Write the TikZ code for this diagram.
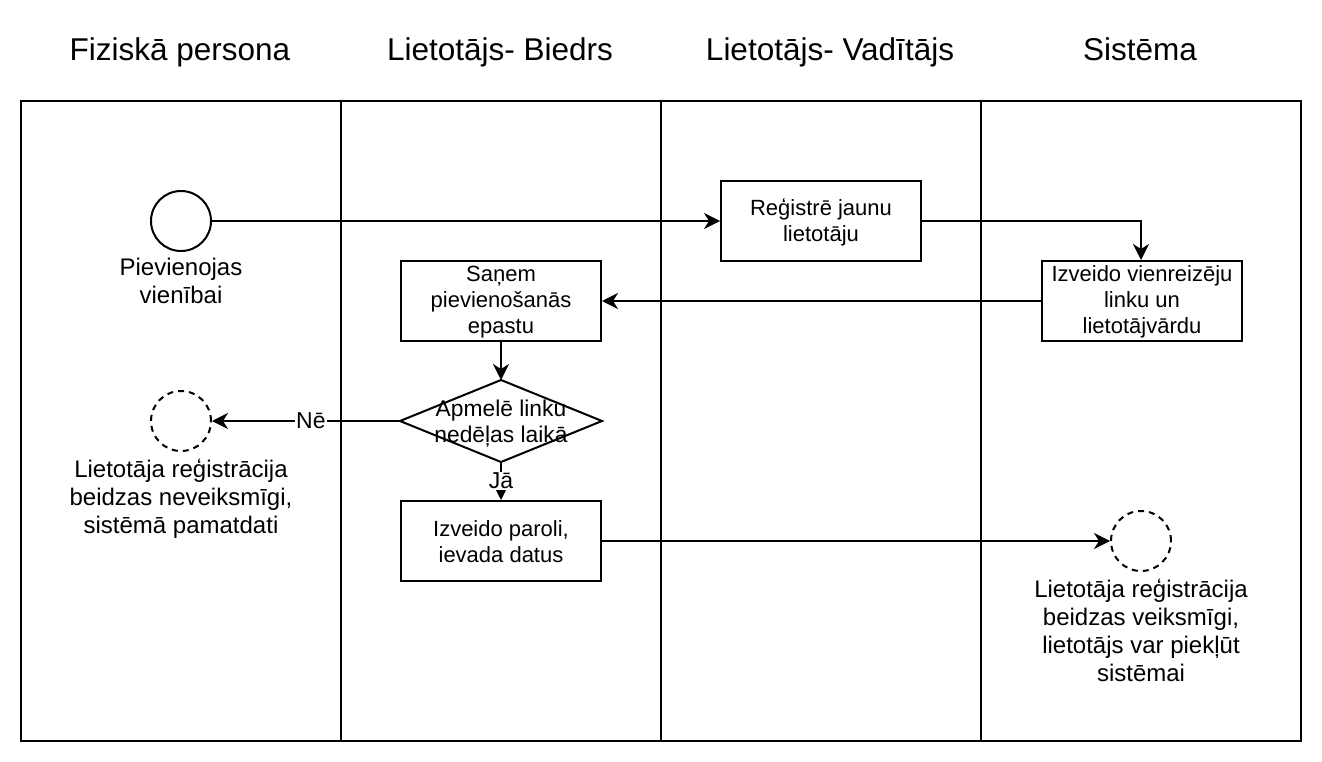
\documentclass[tikz,border=0pt]{standalone}
\usepackage{fontspec}
\setmainfont{Liberation Sans}
\usetikzlibrary{shapes.geometric,arrows.meta}
\begin{document}
\begin{tikzpicture}[x=1pt,y=-1pt,line width=2pt,
  body/.style={font=\fontsize{22}{26}\selectfont, align=center},
  lbl/.style={font=\fontsize{24}{28}\selectfont, align=center},
  head/.style={font=\fontsize{31.5}{38}\selectfont, inner sep=0pt, anchor=base},
  lane/.style={draw, minimum width=320pt, minimum height=640pt, inner sep=0pt},
  proc/.style={draw, minimum width=200pt, minimum height=80pt, inner sep=0pt},
  ptext/.style={body, inner sep=0pt},
  evt/.style={draw, circle, minimum size=60pt, inner sep=0pt},
  endevt/.style={evt, dash pattern=on 6pt off 5pt},
  box/.style={minimum width=200pt, minimum height=80pt, inner sep=0pt},
  flow/.style={-{Stealth[length=16pt,width=16pt,inset=5pt]}},
  evtlabel/.style={lbl, anchor=north, inner sep=2pt},
  edgelabel/.style={font=\fontsize{23}{27}\selectfont, fill=white, inner sep=1pt}
]
\useasboundingbox (0,0) rectangle (1322,762);

% lanes
\node[lane] (l1) at (181,421) {};
\node[lane] (l2) at (501,421) {};
\node[lane] (l3) at (821,421) {};
\node[lane] (l4) at (1141,421) {};

% headers
\node[head] (h1) at (180,61) {Fiziskā persona};
\node[head] (h2) at (500,61) {Lietotājs- Biedrs};
\node[head] (h3) at (830,61) {Lietotājs- Vadītājs};
\node[head] (h4) at (1140,61) {Sistēma};

% nodes
\node[evt] (start) at (181,221) {};
\node[evtlabel] (startlbl) at (181,255) {Pievienojas\\vienībai};

\node[proc] (reg) at (821,221) {};
\node[ptext] (regtxt) at (821,222) {Reģistrē jaunu\\lietotāju};
\node[proc] (link) at (1142,301) {};
\node[ptext] (linktxt) at (1142,302) {Izveido vienreizēju\\linku un\\lietotājvārdu};
\node[proc] (mail) at (501,301) {};
\node[ptext] (mailtxt) at (501,302) {Saņem\\pievienošanās\\epastu};
\node[box] (dec) at (501,421) {};
\draw (dec.north) -- (dec.east) -- (dec.south) -- (dec.west) -- cycle;
\node[body, font=\fontsize{22.8}{26}\selectfont] (dectxt) at (501,424) {Apmelē linku\\nedēļas laikā};
\node[proc] (pwd) at (501,541) {};
\node[ptext] (pwdtxt) at (501,542) {Izveido paroli,\\ievada datus};

\node[endevt] (fail) at (181,421) {};
\node[evtlabel] (faillbl) at (181,456) {Lietotāja reģistrācija\\beidzas neveiksmīgi,\\sistēmā pamatdati};

\node[endevt] (ok) at (1141,541) {};
\node[evtlabel] (oklbl) at (1141,576) {Lietotāja reģistrācija\\beidzas veiksmīgi,\\lietotājs var piekļūt\\sistēmai};

% connectors
\draw[flow] (start) -- (reg);
\draw[flow] (reg.east) -| (link.north -| ok.center);
\draw[flow] (link) -- (mail);
\draw[flow] (mail) -- (dec.north);
\draw[flow] (dec.west) -- node[edgelabel, pos=0.474] (ne) {Nē} (fail);
\draw[flow] (dec.south) -- node[edgelabel, pos=0.5] (ja) {Jā} (pwd);
\draw[flow] (pwd) -- (ok);
\end{tikzpicture}
\end{document}
